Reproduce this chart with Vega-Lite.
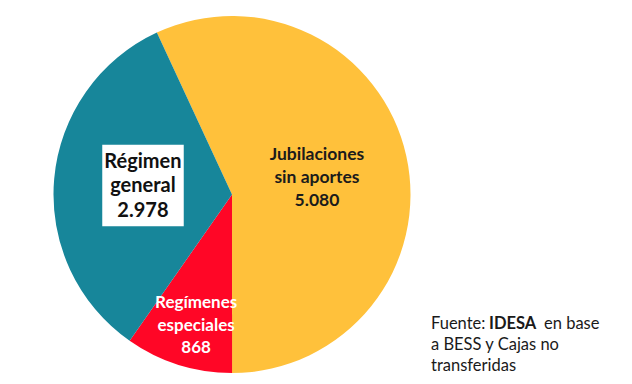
{
  "$schema": "https://vega.github.io/schema/vega-lite/v6.json",
  "width": 464,
  "height": 379,
  "autosize": "none",
  "padding": {"left": 0, "top": 5, "right": 168, "bottom": 0},
  "background": "white",
  "config": {"view": {"stroke": null}},
  "data": {
    "values": [
      {"categoria": "Jubilaciones sin aportes", "valor": 5080, "orden": 1, "etiqueta": "Jubilaciones\nsin aportes\n5.080"},
      {"categoria": "Regímenes especiales", "valor": 868, "orden": 2, "etiqueta": "Regímenes\nespeciales\n868"},
      {"categoria": "Régimen general", "valor": 2978, "orden": 3, "etiqueta": "Régimen\ngeneral\n2.978"}
    ]
  },
  "encoding": {
    "theta": {"field": "valor", "type": "quantitative", "stack": true, "scale": {"range": [-0.4346, 5.8486]}},
    "order": {"field": "orden", "type": "quantitative"}
  },
  "layer": [
    {
      "mark": {"type": "arc", "outerRadius": 178.5},
      "encoding": {
        "color": {
          "field": "categoria",
          "type": "nominal",
          "scale": {
            "domain": ["Jubilaciones sin aportes", "Regímenes especiales", "Régimen general"],
            "range": ["#FFC13B", "#FF0626", "#17869A"]
          },
          "legend": null
        }
      }
    },
    {
      "transform": [{"filter": "datum.categoria === 'Régimen general'"}],
      "mark": {"type": "point", "shape": "square", "filled": true, "fill": "white", "opacity": 1, "size": 6642, "xOffset": -89, "yOffset": -9},
      "encoding": {"theta": null, "order": null}
    },
    {
      "mark": {"type": "text", "radius": 87, "dy": -21, "font": "Lato", "fontWeight": "bold", "fontSize": 17.5, "lineHeight": 23, "lineBreak": "\n", "align": "center", "baseline": "middle", "fill": "#1b1b1b"},
      "encoding": {"text": {"condition": {"test": "datum.orden === 1", "field": "etiqueta"}, "value": ""}}
    },
    {
      "mark": {"type": "text", "radius": 136, "dx": 5, "dy": -21, "font": "Lato", "fontWeight": "bold", "fontSize": 17, "lineHeight": 22.5, "lineBreak": "\n", "align": "center", "baseline": "middle", "fill": "white"},
      "encoding": {"text": {"condition": {"test": "datum.orden === 2", "field": "etiqueta"}, "value": ""}}
    },
    {
      "mark": {"type": "text", "radius": 89.4, "dy": -25, "font": "Lato", "fontWeight": "bold", "fontSize": 20, "lineHeight": 24.5, "lineBreak": "\n", "align": "center", "baseline": "middle", "fill": "#111111"},
      "encoding": {"text": {"condition": {"test": "datum.orden === 3", "field": "etiqueta"}, "value": ""}}
    },
    {
      "transform": [{"filter": "datum.orden === 1"}],
      "mark": {"type": "text", "text": "Fuente:", "dx": 199, "dy": 134.5, "align": "left", "baseline": "alphabetic", "font": "Lato", "fontSize": 16.5, "fill": "#1a1a1a"},
      "encoding": {"theta": null, "order": null}
    },
    {
      "transform": [{"filter": "datum.orden === 1"}],
      "mark": {"type": "text", "text": "IDESA", "dx": 257, "dy": 134.5, "align": "left", "baseline": "alphabetic", "font": "Lato", "fontWeight": "bold", "fontSize": 16.5, "fill": "#1a1a1a"},
      "encoding": {"theta": null, "order": null}
    },
    {
      "transform": [{"filter": "datum.orden === 1"}],
      "mark": {"type": "text", "text": "en base", "dx": 312, "dy": 134.5, "align": "left", "baseline": "alphabetic", "font": "Lato", "fontSize": 16.5, "fill": "#1a1a1a"},
      "encoding": {"theta": null, "order": null}
    },
    {
      "transform": [{"filter": "datum.orden === 1"}],
      "mark": {"type": "text", "text": ["a BESS y Cajas no", "transferidas"], "dx": 199, "dy": 155.5, "align": "left", "baseline": "alphabetic", "lineHeight": 21, "font": "Lato", "fontSize": 16.5, "fill": "#1a1a1a"},
      "encoding": {"theta": null, "order": null}
    }
  ]
}
